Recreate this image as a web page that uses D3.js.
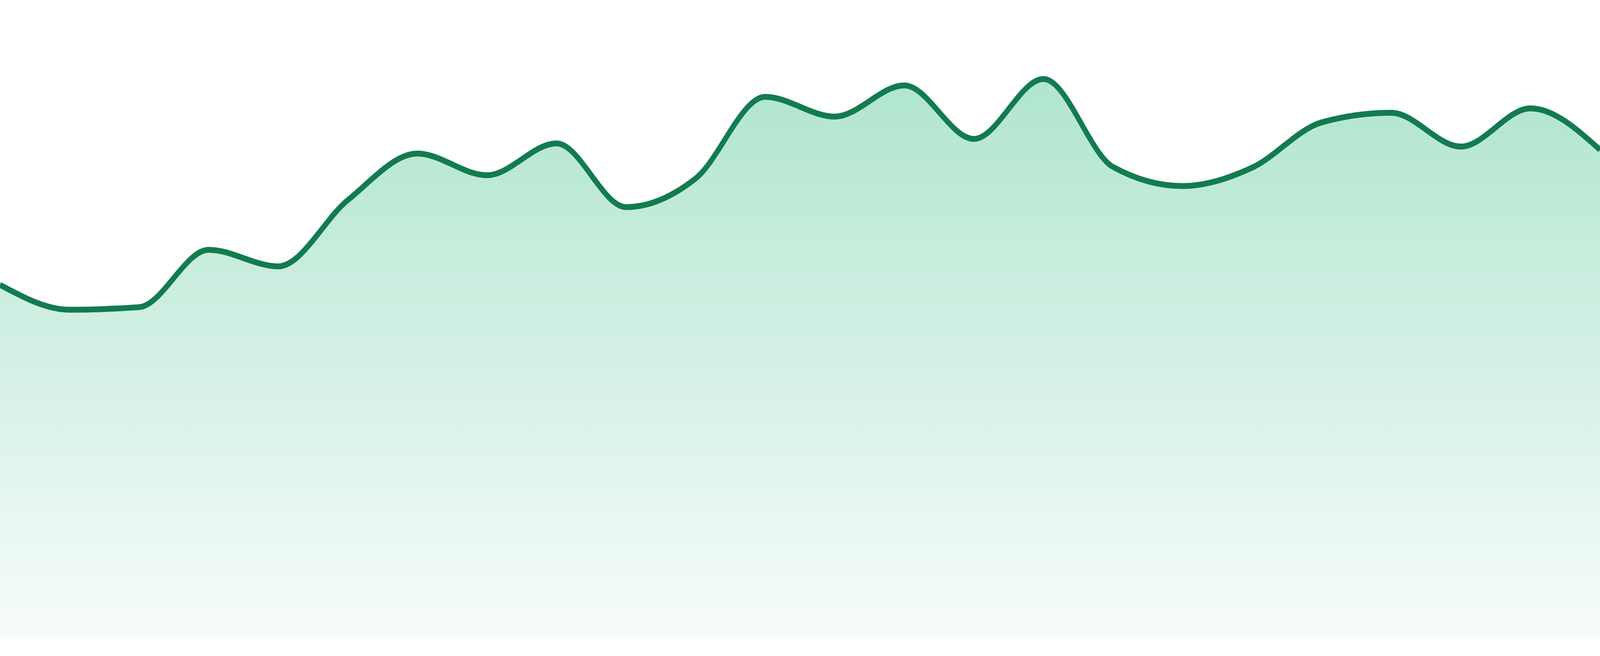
<!DOCTYPE html>
<html>
<head>
<meta charset="utf-8">
<script src="https://cdn.jsdelivr.net/npm/d3@7.9.0/dist/d3.min.js"></script>
<style>
  html, body { margin: 0; padding: 0; background: #fff; overflow: hidden; }
  svg { display: block; width: 100vw; height: 100vh; }
</style>
</head>
<body>
<svg id="chart"></svg>
<script>
// one value per period
const periods = ['01', '02', '03', '04', '05', '06', '07', '08', '09', '10', '11', '12',
                 '13', '14', '15', '16', '17', '18', '19', '20', '21', '22', '23', '24'];
const values = [55.3, 51.4, 51.8, 60.8, 58.2, 68.6, 75.9, 72.5, 77.5, 67.5, 72.0, 84.8,
                81.7, 86.6, 78.2, 87.6, 73.8, 70.8, 73.7, 80.8, 82.3, 77.0, 83.0, 76.5];
const yDomain = [0, 100];

const width = 4800;
const height = 1680;
const baseline = 1632;

const svg = d3.select('#chart')
    .attr('viewBox', `0 0 ${width} ${height}`)
    .attr('preserveAspectRatio', 'none');

let x = d3.scalePoint().domain(periods).range([0, width]);
let y = d3.scaleLinear().domain(yDomain).range([baseline, 0]);

let data = periods.map((p, i) => ({ period: p, value: values[i] }));

let grad = svg.append('defs')
    .append('linearGradient')
    .attr('id', 'fade')
    .attr('gradientUnits', 'userSpaceOnUse')
    .attr('x1', 0).attr('x2', 0)
    .attr('y1', y(d3.max(values)))
    .attr('y2', baseline);
grad.append('stop').attr('offset', '0%').attr('stop-color', '#b0e5cf');
grad.append('stop').attr('offset', '100%').attr('stop-color', '#f7fcfa');

let area = d3.area()
    .x((d) => x(d.period))
    .y0(baseline)
    .y1((d) => y(d.value))
    .curve(d3.curveMonotoneX);

let line = d3.line()
    .x((d) => x(d.period))
    .y((d) => y(d.value))
    .curve(d3.curveMonotoneX);

svg.append('path')
    .datum(data)
    .attr('d', area)
    .attr('fill', 'url(#fade)');

svg.append('path')
    .datum(data)
    .attr('d', line)
    .attr('fill', 'none')
    .attr('stroke', '#127b50')
    .attr('stroke-width', 15)
    .attr('stroke-linejoin', 'round');
</script>
</body>
</html>
